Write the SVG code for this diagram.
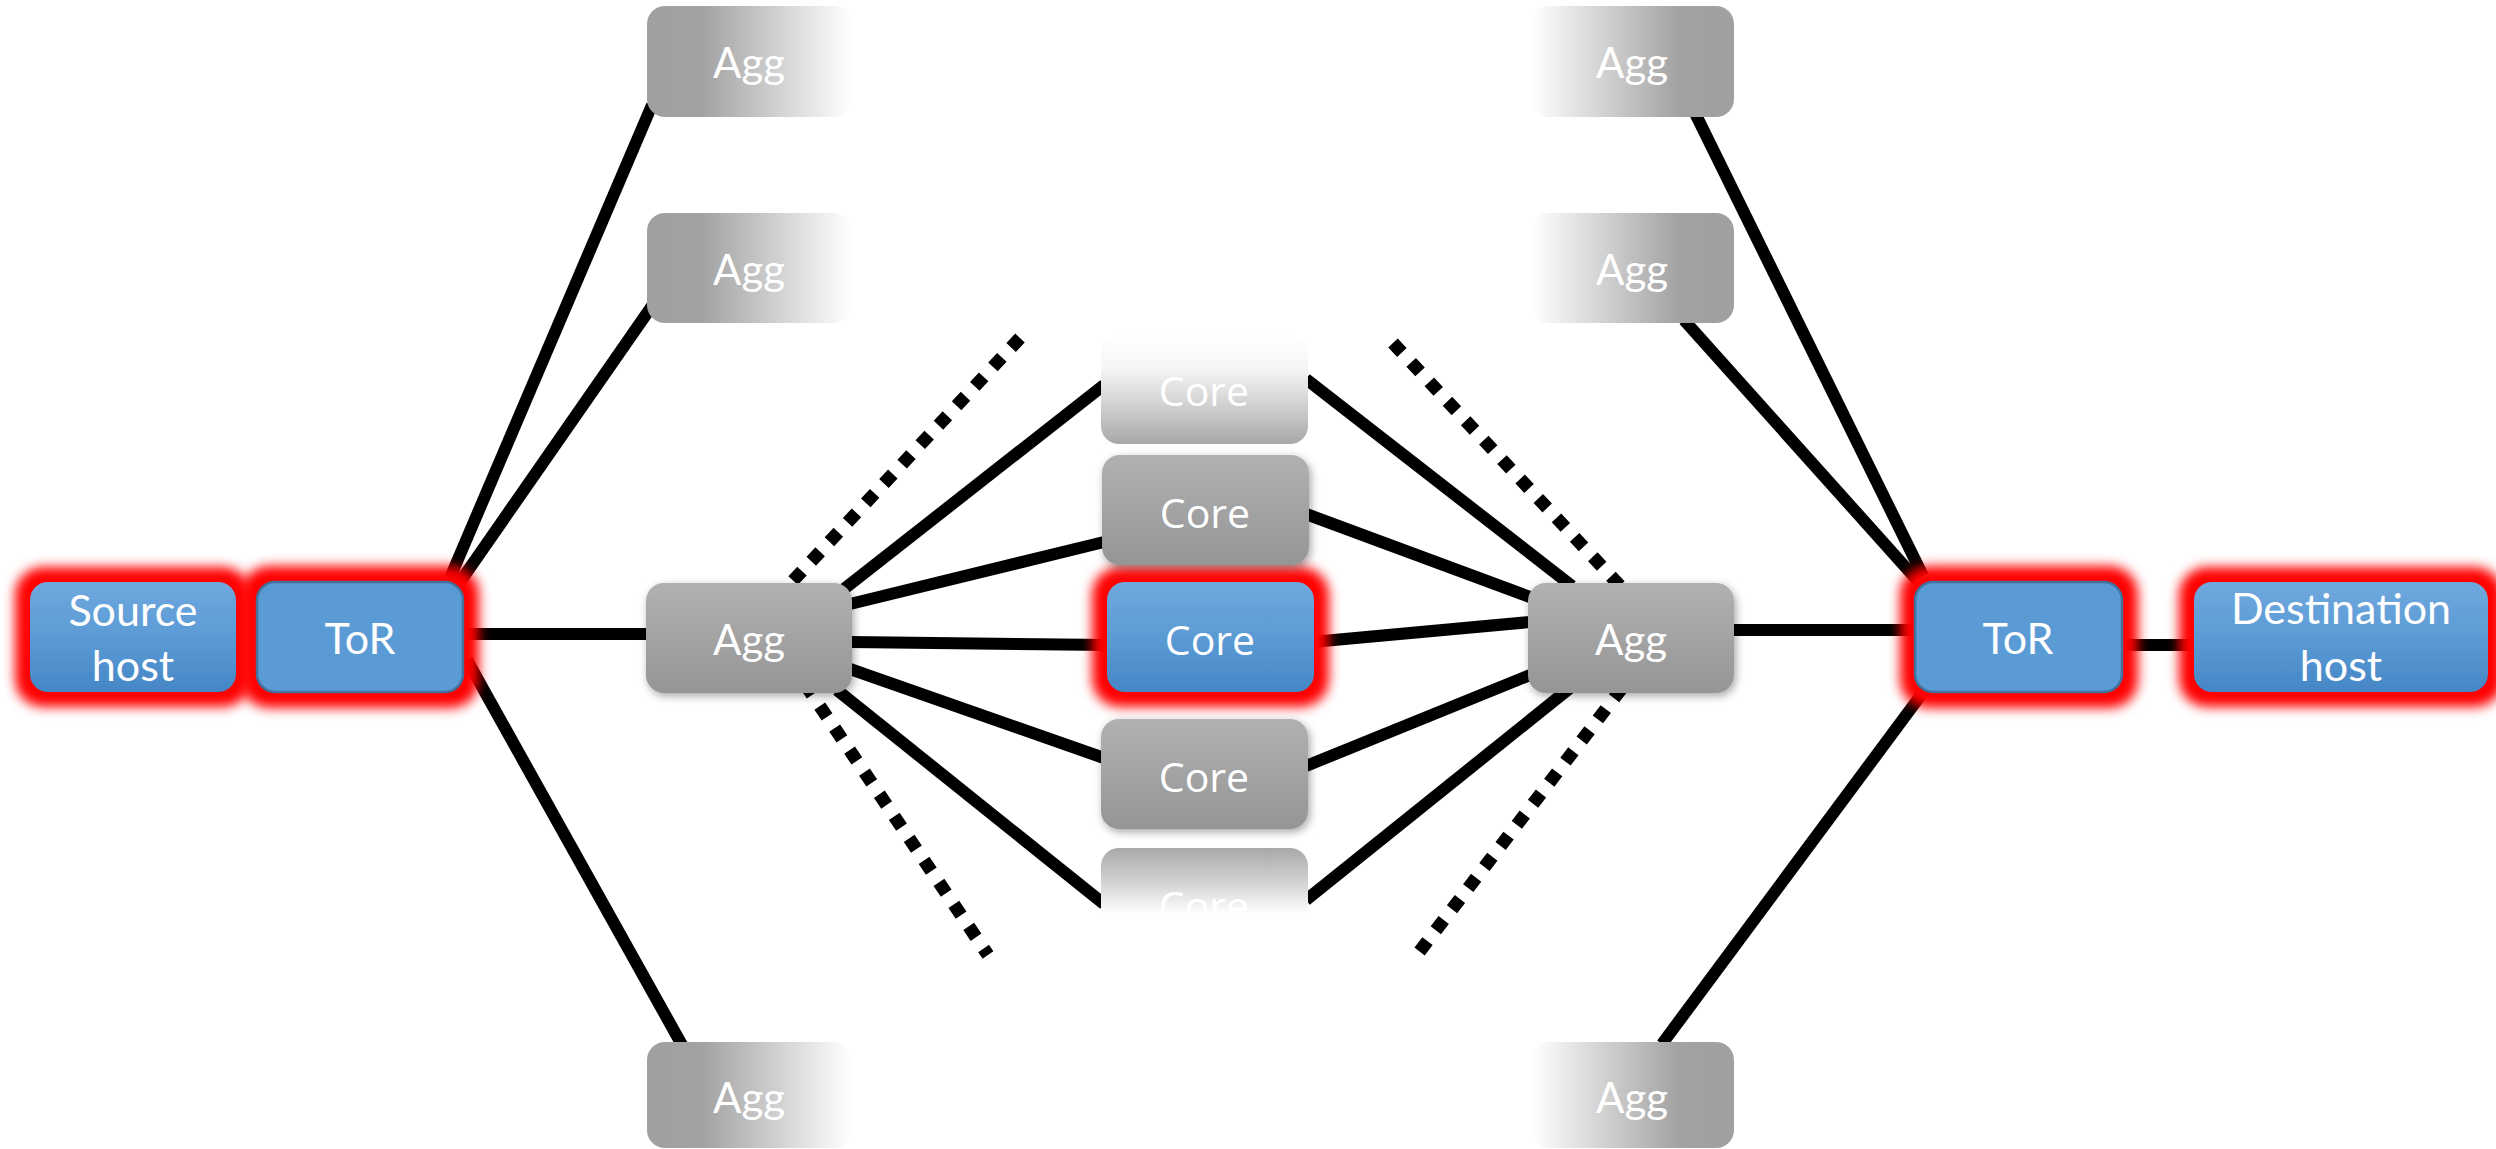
<svg xmlns="http://www.w3.org/2000/svg" width="2496" height="1149" viewBox="0 0 2496 1149">
<style>
.ln{stroke:#000;stroke-width:12;fill:none}
.dot{stroke:#000;stroke-width:13;fill:none;stroke-dasharray:13 13.6}
.glow{fill:#ff0000;filter:url(#blur)}
.lbl{fill:#fff;font-family:Lato,"Open Sans","Liberation Sans",sans-serif;font-size:43px;text-anchor:middle}
.agg{fill:#fff;font-family:Lato,"Open Sans","Liberation Sans",sans-serif;font-size:42px;text-anchor:middle}
.core{fill:#fff;font-family:"Open Sans","Noto Sans","Liberation Sans",sans-serif;font-size:41px;text-anchor:middle}
</style>
<defs>
<filter id="blur" x="-30%" y="-40%" width="160%" height="180%"><feGaussianBlur stdDeviation="6"/></filter>
<filter id="shadow" x="-20%" y="-30%" width="140%" height="160%"><feDropShadow dx="2" dy="3" stdDeviation="4" flood-color="#000" flood-opacity="0.35"/></filter>
<linearGradient id="blue" x1="0" y1="0" x2="0" y2="1"><stop offset="0" stop-color="#6fa8de"/><stop offset="0.5" stop-color="#5b9bd5"/><stop offset="1" stop-color="#4586c6"/></linearGradient>
<linearGradient id="gray" x1="0" y1="0" x2="0" y2="1"><stop offset="0" stop-color="#b1b1b1"/><stop offset="1" stop-color="#959595"/></linearGradient>
<linearGradient id="fadeR" x1="0" y1="0" x2="1" y2="0"><stop offset="0" stop-color="#a0a0a0"/><stop offset="0.27" stop-color="#a2a2a2"/><stop offset="1" stop-color="#ffffff"/></linearGradient>
<linearGradient id="fadeL" x1="0" y1="0" x2="1" y2="0"><stop offset="0" stop-color="#ffffff"/><stop offset="0.73" stop-color="#a2a2a2"/><stop offset="1" stop-color="#a0a0a0"/></linearGradient>
<linearGradient id="fadeT" x1="0" y1="0" x2="0" y2="1"><stop offset="0" stop-color="#ffffff"/><stop offset="0.3" stop-color="#f6f6f6"/><stop offset="0.6" stop-color="#d6d6d6"/><stop offset="1" stop-color="#a8a8a8"/></linearGradient>
<linearGradient id="fadeB" x1="0" y1="0" x2="0" y2="1"><stop offset="0" stop-color="#a8a8a8"/><stop offset="0.35" stop-color="#d8d8d8"/><stop offset="0.6" stop-color="#ffffff"/><stop offset="1" stop-color="#ffffff"/></linearGradient>
</defs>
<rect width="2496" height="1149" fill="#fff"/>
<g id="connectors">
<line class="ln" x1="450" y1="578" x2="652" y2="105"/>
<line class="ln" x1="460" y1="582" x2="652" y2="306"/>
<line class="ln" x1="464" y1="634" x2="647" y2="634"/>
<line class="ln" x1="467" y1="660" x2="682" y2="1045"/>
<line class="ln" x1="844" y1="589" x2="1104" y2="385"/>
<line class="ln" x1="850" y1="604" x2="1104" y2="542"/>
<line class="ln" x1="850" y1="642" x2="1108" y2="645"/>
<line class="ln" x1="850" y1="669" x2="1104" y2="758"/>
<line class="ln" x1="837" y1="690" x2="1104" y2="904"/>
<line class="ln" x1="1306" y1="379" x2="1572" y2="586"/>
<line class="ln" x1="1306" y1="514" x2="1530" y2="597"/>
<line class="ln" x1="1312" y1="642" x2="1530" y2="622"/>
<line class="ln" x1="1306" y1="766" x2="1530" y2="675"/>
<line class="ln" x1="1306" y1="900" x2="1570" y2="688"/>
<line class="ln" x1="1695" y1="113" x2="1923" y2="576"/>
<line class="ln" x1="1684" y1="320" x2="1917" y2="580"/>
<line class="ln" x1="1732" y1="630" x2="1917" y2="630"/>
<line class="ln" x1="1921" y1="695" x2="1662" y2="1044"/>
<line class="ln" x1="2121" y1="645" x2="2196" y2="645"/>
<line class="dot" x1="1020" y1="338" x2="775" y2="600"/>
<line class="dot" x1="790" y1="662" x2="988" y2="955"/>
<line class="dot" x1="1393" y1="343" x2="1622" y2="588"/>
<line class="dot" x1="1622" y1="688" x2="1413" y2="960"/>
</g>
<g id="glows">
<rect class="glow" x="15" y="567" width="236" height="140" rx="28"/>
<rect class="glow" x="241" y="566" width="238" height="142" rx="28"/>
<rect class="glow" x="1092" y="567" width="237" height="140" rx="28"/>
<rect class="glow" x="1900" y="566" width="238" height="142" rx="28"/>
<rect class="glow" x="2179" y="567" width="324" height="140" rx="28"/>
</g>
<g id="source-host"><rect x="30" y="582" width="206" height="110" rx="18" fill="url(#blue)"/><text class="lbl" x="133" y="626">Source</text><text class="lbl" x="133" y="681">host</text></g>
<g id="tor-left"><rect x="257" y="582" width="206" height="110" rx="18" fill="#5b9bd5" stroke="#41719c" stroke-width="2.5"/><text class="lbl" x="360" y="654">ToR</text></g>
<g id="agg-l1"><rect x="647" y="6" width="205" height="111" rx="18" fill="url(#fadeR)"/><text class="agg" x="749" y="78">Agg</text></g>
<g id="agg-l2"><rect x="647" y="213" width="205" height="110" rx="18" fill="url(#fadeR)"/><text class="agg" x="749" y="285">Agg</text></g>
<g id="agg-l3"><rect x="646" y="583" width="206" height="110" rx="18" fill="url(#gray)" filter="url(#shadow)"/><text class="agg" x="749" y="655">Agg</text></g>
<g id="agg-l4"><rect x="647" y="1042" width="205" height="106" rx="18" fill="url(#fadeR)"/><text class="agg" x="749" y="1113">Agg</text></g>
<g id="core-1"><rect x="1101" y="334" width="207" height="110" rx="18" fill="url(#fadeT)"/><text class="core" x="1204" y="406">Core</text></g>
<g id="core-2"><rect x="1102" y="455" width="207" height="110" rx="18" fill="url(#gray)" filter="url(#shadow)"/><text class="core" x="1205" y="528">Core</text></g>
<g id="core-3"><rect x="1107" y="582" width="207" height="110" rx="18" fill="url(#blue)"/><text class="core" x="1210" y="655">Core</text></g>
<g id="core-4"><rect x="1101" y="719" width="207" height="110" rx="18" fill="url(#gray)" filter="url(#shadow)"/><text class="core" x="1204" y="792">Core</text></g>
<g id="core-5"><rect x="1101" y="848" width="207" height="110" rx="18" fill="url(#fadeB)"/><text class="core" x="1204" y="921">Core</text></g>
<g id="agg-r1"><rect x="1531" y="6" width="203" height="111" rx="18" fill="url(#fadeL)"/><text class="agg" x="1632" y="78">Agg</text></g>
<g id="agg-r2"><rect x="1531" y="213" width="203" height="110" rx="18" fill="url(#fadeL)"/><text class="agg" x="1632" y="285">Agg</text></g>
<g id="agg-r3"><rect x="1528" y="583" width="206" height="110" rx="18" fill="url(#gray)" filter="url(#shadow)"/><text class="agg" x="1631" y="655">Agg</text></g>
<g id="agg-r4"><rect x="1531" y="1042" width="203" height="106" rx="18" fill="url(#fadeL)"/><text class="agg" x="1632" y="1113">Agg</text></g>
<g id="tor-right"><rect x="1915" y="582" width="207" height="110" rx="18" fill="#5b9bd5" stroke="#41719c" stroke-width="2.5"/><text class="lbl" x="2018" y="654">ToR</text></g>
<g id="destination-host"><rect x="2194" y="582" width="294" height="110" rx="18" fill="url(#blue)"/><text class="lbl" x="2341" y="624">Destination</text><text class="lbl" x="2341" y="681">host</text></g>
</svg>
